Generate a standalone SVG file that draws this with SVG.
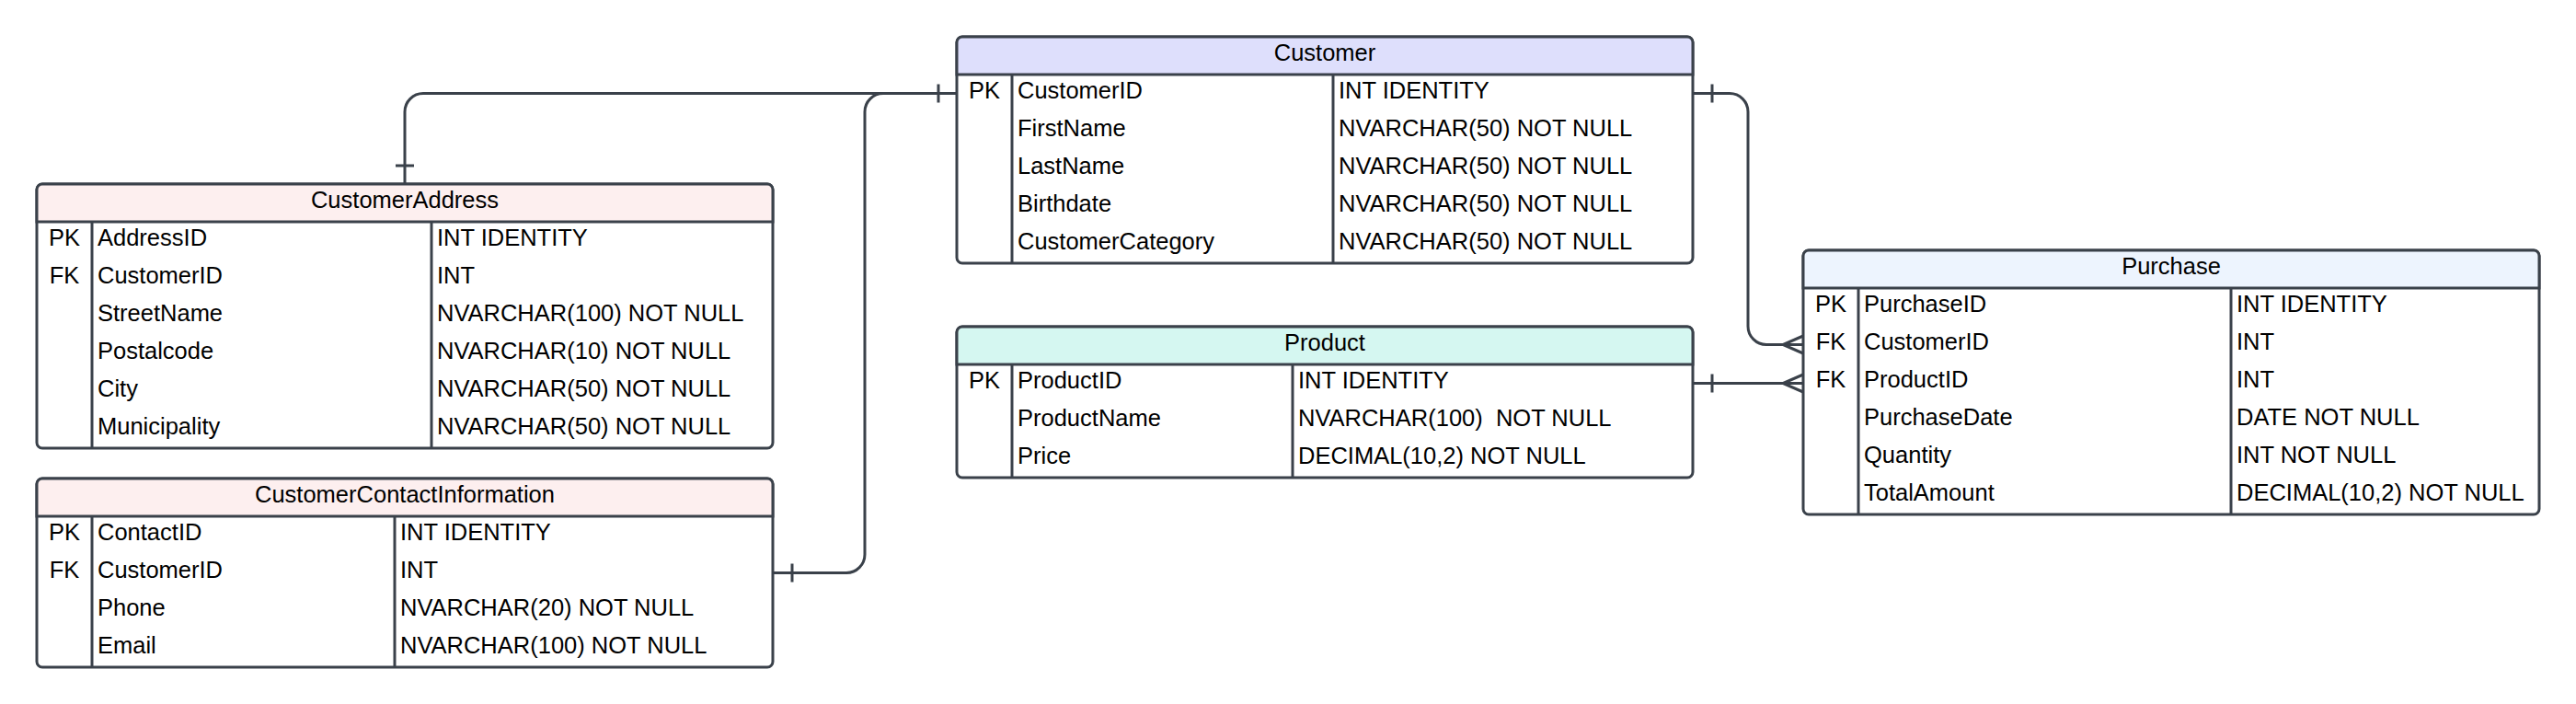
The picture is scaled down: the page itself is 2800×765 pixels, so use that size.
<svg xmlns="http://www.w3.org/2000/svg" width="2800" height="765" viewBox="0 0 2800 765">
<style>
  .box { fill: #ffffff; stroke: #3a414a; stroke-width: 3; }
  .hdr { stroke: #3a414a; stroke-width: 3; }
  .ln { stroke: #3a414a; stroke-width: 3; fill: none; }
  .conn { stroke: #3a414a; stroke-width: 3; fill: none; stroke-linecap: butt; }
  text { font-family: "Liberation Sans", Arial, sans-serif; font-size: 25.5px; fill: #000000; }
  .title { text-anchor: middle; }
  .key { text-anchor: middle; }
</style>
<rect width="2800" height="765" fill="#ffffff"/>

<g id="connectors">
  <!-- Customer -> CustomerAddress -->
  <path class="conn" d="M1040,101.5 H460 A20,20 0 0 0 440,121.5 V200"/>
  <line class="conn" x1="430" y1="180" x2="450" y2="180"/>
  <line class="conn" x1="1020" y1="91.5" x2="1020" y2="111.5"/>
  <!-- Customer -> CustomerContactInformation -->
  <path class="conn" d="M1040,101.5 H960 A20,20 0 0 0 940,121.5 V602.5 A20,20 0 0 1 920,622.5 H840"/>
  <line class="conn" x1="861" y1="612.5" x2="861" y2="632.5"/>
  <!-- Customer -> Purchase -->
  <path class="conn" d="M1840,101.5 H1880 A20,20 0 0 1 1900,121.5 V354.5 A20,20 0 0 0 1920,374.5 H1960"/>
  <line class="conn" x1="1861" y1="91.5" x2="1861" y2="111.5"/>
  <path class="conn" d="M1960,365 L1938,374.5 L1960,384"/>
  <!-- Product -> Purchase -->
  <path class="conn" d="M1840,416.5 H1960"/>
  <line class="conn" x1="1861" y1="406.5" x2="1861" y2="426.5"/>
  <path class="conn" d="M1960,407 L1938,416.5 L1960,426"/>
</g>

<g id="Customer">
  <rect class="box" x="1040" y="40" width="800" height="246" rx="6"/>
  <path d="M1046,40 H1834 A6,6 0 0 1 1840,46 V81 H1040 V46 A6,6 0 0 1 1046,40 Z" fill="#dedffc" class="hdr"/>
  <line class="ln" x1="1100" y1="81" x2="1100" y2="286"/>
  <line class="ln" x1="1449" y1="81" x2="1449" y2="286"/>
  <text class="title" x="1440" y="66">Customer</text>
  <text class="key" x="1070" y="107">PK</text>
  <text x="1106" y="107">CustomerID</text>
  <text x="1455" y="107">INT IDENTITY</text>
  <text x="1106" y="148">FirstName</text>
  <text x="1455" y="148">NVARCHAR(50) NOT NULL</text>
  <text x="1106" y="189">LastName</text>
  <text x="1455" y="189">NVARCHAR(50) NOT NULL</text>
  <text x="1106" y="230">Birthdate</text>
  <text x="1455" y="230">NVARCHAR(50) NOT NULL</text>
  <text x="1106" y="271">CustomerCategory</text>
  <text x="1455" y="271">NVARCHAR(50) NOT NULL</text>
</g>

<g id="CustomerAddress">
  <rect class="box" x="40" y="200" width="800" height="287" rx="6"/>
  <path d="M46,200 H834 A6,6 0 0 1 840,206 V241 H40 V206 A6,6 0 0 1 46,200 Z" fill="#fdefef" class="hdr"/>
  <line class="ln" x1="100" y1="241" x2="100" y2="487"/>
  <line class="ln" x1="469" y1="241" x2="469" y2="487"/>
  <text class="title" x="440" y="226">CustomerAddress</text>
  <text class="key" x="70" y="267">PK</text>
  <text x="106" y="267">AddressID</text>
  <text x="475" y="267">INT IDENTITY</text>
  <text class="key" x="70" y="308">FK</text>
  <text x="106" y="308">CustomerID</text>
  <text x="475" y="308">INT</text>
  <text x="106" y="349">StreetName</text>
  <text x="475" y="349">NVARCHAR(100) NOT NULL</text>
  <text x="106" y="390">Postalcode</text>
  <text x="475" y="390">NVARCHAR(10) NOT NULL</text>
  <text x="106" y="431">City</text>
  <text x="475" y="431">NVARCHAR(50) NOT NULL</text>
  <text x="106" y="472">Municipality</text>
  <text x="475" y="472">NVARCHAR(50) NOT NULL</text>
</g>

<g id="CustomerContactInformation">
  <rect class="box" x="40" y="520" width="800" height="205" rx="6"/>
  <path d="M46,520 H834 A6,6 0 0 1 840,526 V561 H40 V526 A6,6 0 0 1 46,520 Z" fill="#fdefef" class="hdr"/>
  <line class="ln" x1="100" y1="561" x2="100" y2="725"/>
  <line class="ln" x1="429" y1="561" x2="429" y2="725"/>
  <text class="title" x="440" y="546">CustomerContactInformation</text>
  <text class="key" x="70" y="587">PK</text>
  <text x="106" y="587">ContactID</text>
  <text x="435" y="587">INT IDENTITY</text>
  <text class="key" x="70" y="628">FK</text>
  <text x="106" y="628">CustomerID</text>
  <text x="435" y="628">INT</text>
  <text x="106" y="669">Phone</text>
  <text x="435" y="669">NVARCHAR(20) NOT NULL</text>
  <text x="106" y="710">Email</text>
  <text x="435" y="710">NVARCHAR(100) NOT NULL</text>
</g>

<g id="Product">
  <rect class="box" x="1040" y="355" width="800" height="164" rx="6"/>
  <path d="M1046,355 H1834 A6,6 0 0 1 1840,361 V396 H1040 V361 A6,6 0 0 1 1046,355 Z" fill="#d5f7f1" class="hdr"/>
  <line class="ln" x1="1100" y1="396" x2="1100" y2="519"/>
  <line class="ln" x1="1405" y1="396" x2="1405" y2="519"/>
  <text class="title" x="1440" y="381">Product</text>
  <text class="key" x="1070" y="422">PK</text>
  <text x="1106" y="422">ProductID</text>
  <text x="1411" y="422">INT IDENTITY</text>
  <text x="1106" y="463">ProductName</text>
  <text x="1411" y="463" xml:space="preserve">NVARCHAR(100)  NOT NULL</text>
  <text x="1106" y="504">Price</text>
  <text x="1411" y="504">DECIMAL(10,2) NOT NULL</text>
</g>

<g id="Purchase">
  <rect class="box" x="1960" y="272" width="800" height="287" rx="6"/>
  <path d="M1966,272 H2754 A6,6 0 0 1 2760,278 V313 H1960 V278 A6,6 0 0 1 1966,272 Z" fill="#edf4fe" class="hdr"/>
  <line class="ln" x1="2020" y1="313" x2="2020" y2="559"/>
  <line class="ln" x1="2425" y1="313" x2="2425" y2="559"/>
  <text class="title" x="2360" y="298">Purchase</text>
  <text class="key" x="1990" y="339">PK</text>
  <text x="2026" y="339">PurchaseID</text>
  <text x="2431" y="339">INT IDENTITY</text>
  <text class="key" x="1990" y="380">FK</text>
  <text x="2026" y="380">CustomerID</text>
  <text x="2431" y="380">INT</text>
  <text class="key" x="1990" y="421">FK</text>
  <text x="2026" y="421">ProductID</text>
  <text x="2431" y="421">INT</text>
  <text x="2026" y="462">PurchaseDate</text>
  <text x="2431" y="462">DATE NOT NULL</text>
  <text x="2026" y="503">Quantity</text>
  <text x="2431" y="503">INT NOT NULL</text>
  <text x="2026" y="544">TotalAmount</text>
  <text x="2431" y="544">DECIMAL(10,2) NOT NULL</text>
</g>
</svg>
